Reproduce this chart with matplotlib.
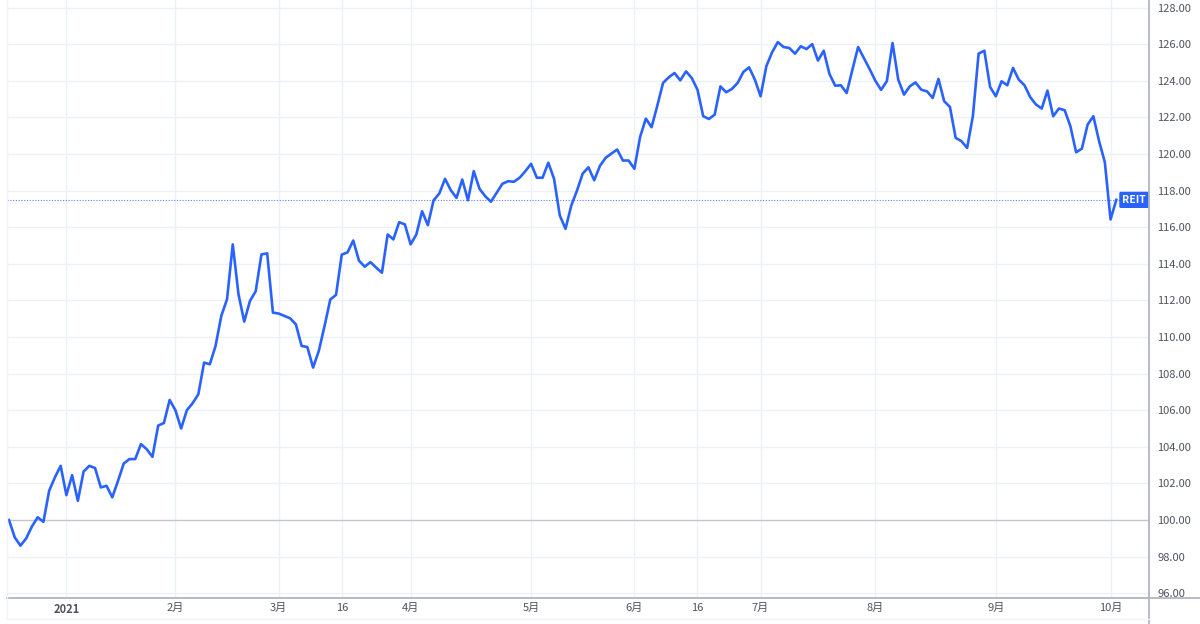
import matplotlib
matplotlib.use("Agg")
import matplotlib.pyplot as plt
import matplotlib.transforms as mtransforms
from matplotlib.lines import Line2D

plt.rcParams['font.family'] = ['Noto Sans CJK JP', 'DejaVu Sans']

series_name = "REIT"
values = [
    100.0, 99.05, 98.6, 99.0, 99.65, 100.15, 99.9, 101.6, 102.33, 102.96,
    101.36, 102.45, 101.05, 102.65, 102.96, 102.84, 101.78, 101.87, 101.24, 102.14,
    103.09, 103.33, 103.33, 104.15, 103.87, 103.45, 105.16, 105.3, 106.56, 106.0,
    105.0, 106.0, 106.38, 106.87, 108.6, 108.51, 109.51, 111.15, 112.06, 115.06,
    112.33, 110.84, 111.97, 112.5, 114.51, 114.57, 111.33, 111.28, 111.15, 111.02,
    110.69, 109.51, 109.45, 108.33, 109.24, 110.6, 112.05, 112.3, 114.5, 114.62,
    115.27, 114.17, 113.84, 114.09, 113.79, 113.51, 115.6, 115.33, 116.27, 116.15,
    115.06, 115.6, 116.87, 116.11, 117.46, 117.84, 118.64, 118.02, 117.6, 118.6,
    117.47, 119.06, 118.1, 117.69, 117.39, 117.88, 118.37, 118.51, 118.48, 118.7,
    119.06, 119.46, 118.7, 118.7, 119.52, 118.64, 116.64, 115.91, 117.18, 118.0,
    118.93, 119.27, 118.56, 119.35, 119.79, 120.02, 120.24, 119.64, 119.64, 119.19,
    120.93, 121.93, 121.46, 122.64, 123.88, 124.19, 124.42, 124.02, 124.51, 124.15,
    123.51, 122.06, 121.91, 122.15, 123.69, 123.37, 123.55, 123.88, 124.48, 124.73,
    124.06, 123.15, 124.79, 125.55, 126.11, 125.84, 125.79, 125.48, 125.88, 125.73,
    126.0, 125.1, 125.64, 124.37, 123.73, 123.75, 123.33, 124.6, 125.84, 125.24,
    124.64, 124.0, 123.5, 123.97, 126.06, 124.05, 123.24, 123.69, 123.91, 123.51,
    123.42, 123.06, 124.1, 122.88, 122.57, 120.88, 120.7, 120.33, 122.06, 125.48,
    125.64, 123.66, 123.15, 123.97, 123.75, 124.7, 124.06, 123.75, 123.1, 122.7,
    122.48, 123.46, 122.06, 122.48, 122.39, 121.51, 120.09, 120.29, 121.6, 122.06,
    120.7, 119.55, 116.42, 117.49,
]
# trading-day index of each x tick
tick_index = [10, 29, 47, 58, 70, 91, 109, 120, 131, 151, 172, 192]
tick_labels = ["2021", "2月", "3月", "16", "4月", "5月", "6月", "16", "7月", "8月", "9月", "10月"]
y_ticks = [96, 98, 100, 102, 104, 106, 108, 110, 112, 114, 116, 118, 120, 122, 124, 126, 128]
baseline = 100

W, H = 1200, 624
fig = plt.figure(figsize=(W / 100, H / 100), dpi=100)
fig.patch.set_facecolor("white")
left_px, right_px, top_px, bottom_px = 7, 1149, 0, 598
ax = fig.add_axes([left_px / W, 1 - bottom_px / H, (right_px - left_px) / W, (bottom_px - top_px) / H])

blue = "#2962ff"
grid_c = "#edf1f7"
text_c = "#50535e"
axis_c = "#b2b5be"

x = list(range(len(values)))
ax.plot(x, values, color=blue, lw=1.9, solid_joinstyle="round", zorder=5)

ax.set_xlim(-0.35, 198.7)
ax.set_ylim(95.74, 128.41)

for yt in y_ticks:
    if yt == baseline:
        ax.axhline(yt, color="#c3c5cc", lw=1.0, zorder=2)
    else:
        ax.axhline(yt, color=grid_c, lw=1.0, zorder=1)
for xt in tick_index:
    ax.axvline(xt, color=grid_c, lw=1.0, zorder=1)

last = values[-1]
ax.axhline(last, color=blue, lw=0.8, ls=(0, (1, 1.5)), alpha=0.8, zorder=3)

ax.set_yticks(y_ticks)
ax.set_yticklabels([f"{v:.2f}" for v in y_ticks])
ax.yaxis.tick_right()
ax.tick_params(axis="y", length=0, pad=6, labelsize=8, labelcolor=text_c)

ax.set_xticks(tick_index)
ax.set_xticklabels(tick_labels)
ax.tick_params(axis="x", length=0, pad=3.5, labelsize=8, labelcolor=text_c)
for lbl in ax.get_xticklabels():
    if lbl.get_text() == "2021":
        lbl.set_fontweight("bold")

for s in ["left", "top", "right", "bottom"]:
    ax.spines[s].set_visible(False)

# axis lines drawn at figure level
fig.add_artist(Line2D([left_px / W, 1.0], [1 - bottom_px / H] * 2, color=axis_c, lw=1.3))
fig.add_artist(Line2D([right_px / W] * 2, [0.0, 1.0], color=axis_c, lw=1.3))
fig.add_artist(Line2D([left_px / W, right_px / W], [1 - 619 / H] * 2, color="#f0f3fa", lw=1.0))
fig.add_artist(Line2D([left_px / W] * 2, [1 - 619 / H, 1.0], color="#f0f3fa", lw=1.0))

trans = mtransforms.blended_transform_factory(ax.transAxes, ax.transData)
ax.text(0.9975, last, series_name, transform=trans, ha="right", va="center",
        color="white", fontsize=7.5, fontweight="bold", zorder=6,
        bbox=dict(boxstyle="round,pad=0.3,rounding_size=0.15", fc=blue, ec="none"))

fig.savefig("out.png", dpi=100, facecolor="white")
